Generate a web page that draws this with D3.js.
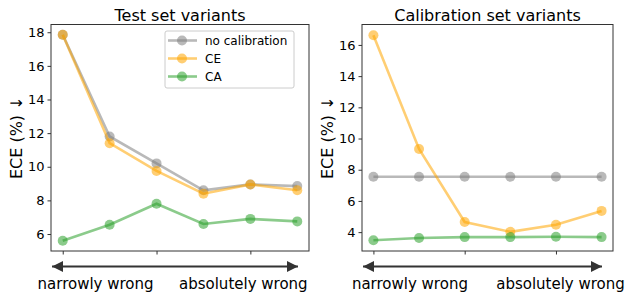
<!DOCTYPE html>
<html>
<head>
<meta charset="utf-8">
<script src="https://cdn.jsdelivr.net/npm/d3@7"></script>
<style>
  body { margin: 0; background: #fff; }
  text { font-family: "DejaVu Sans", sans-serif; fill: #000; }
</style>
</head>
<body>
<svg width="625" height="292"></svg>
<script>
var svg = d3.select("svg");

// x positions 0..5, from narrowly wrong to absolutely wrong
var steps = [0, 1, 2, 3, 4, 5];
var xTicks = [0, 2, 4];

var testNoCal = [17.85, 11.8, 10.2, 8.6, 8.95, 8.85];
var testCE = [17.85, 11.4, 9.75, 8.4, 8.95, 8.6];
var testCA = [5.6, 6.55, 7.8, 6.6, 6.9, 6.75];

var calNoCal = [7.55, 7.55, 7.55, 7.55, 7.55, 7.55];
var calCE = [16.62, 9.33, 4.65, 4.02, 4.47, 5.36];
var calCA = [3.48, 3.62, 3.68, 3.68, 3.7, 3.68];

var seriesNames = ["no calibration", "CE", "CA"];
var colors = ["#808080", "#ffa500", "#2ca02c"];

var panels = [
  { title: "Test set variants", left: 51, right: 309, yDomain: [4.99, 18.46], yTicks: [6, 8, 10, 12, 14, 16, 18],
    series: [testNoCal, testCE, testCA], legend: true, lab: [0.7, 3.85] },
  { title: "Calibration set variants", left: 362, right: 613, yDomain: [2.79, 17.31], yTicks: [4, 6, 8, 10, 12, 14, 16],
    series: [calNoCal, calCE, calCA], legend: false, lab: [0.8, 4.1] }
];

var plotTop = 24.5, plotBottom = 251;

svg.append("defs").append("marker")
    .attr("id", "head")
    .attr("viewBox", "0 0 10 10")
    .attr("refX", 10).attr("refY", 5)
    .attr("markerWidth", 5.5).attr("markerHeight", 5)
    .attr("markerUnits", "strokeWidth")
    .attr("orient", "auto-start-reverse")
  .append("path")
    .attr("d", "M0,0L10,5L0,10z")
    .attr("fill", "#333");

panels.forEach(function(p) {
  var x = d3.scaleLinear().domain([-0.25, 5.25]).range([p.left, p.right]);
  var y = d3.scaleLinear().domain(p.yDomain).range([plotBottom, plotTop]);
  var g = svg.append("g");

  var yAxis = g.append("g")
      .attr("transform", "translate(" + p.left + ",0)")
      .call(d3.axisLeft(y).tickValues(p.yTicks).tickSize(3.5).tickPadding(3));
  yAxis.selectAll("text").attr("font-size", "13px").style("font-family", "DejaVu Sans").attr("fill", "#000");
  yAxis.select(".domain").remove();

  var xAxis = g.append("g")
      .attr("transform", "translate(0," + plotBottom + ")")
      .call(d3.axisBottom(x).tickValues(xTicks).tickSize(3.5).tickFormat(""));
  xAxis.select(".domain").remove();
  g.selectAll(".tick line").attr("stroke", "#333");

  var line = d3.line().x(function(d, i) { return x(steps[i]); }).y(function(d) { return y(d); });

  p.series.forEach(function(vals, k) {
    var s = g.append("g");
    s.append("path")
        .datum(vals)
        .attr("d", line)
        .attr("fill", "none")
        .attr("stroke", colors[k])
        .attr("stroke-opacity", 0.55)
        .attr("stroke-width", 2.6);
    s.selectAll("circle")
        .data(vals)
        .enter().append("circle")
        .attr("cx", function(d, i) { return x(steps[i]); })
        .attr("cy", function(d) { return y(d); })
        .attr("r", 5)
        .attr("fill", colors[k])
        .attr("fill-opacity", 0.55);
  });

  g.append("rect")
      .attr("x", p.left).attr("y", plotTop)
      .attr("width", p.right - p.left).attr("height", plotBottom - plotTop)
      .attr("fill", "none").attr("stroke", "#333").attr("stroke-width", 1);

  g.append("text")
      .attr("x", (p.left + p.right) / 2).attr("y", 21)
      .attr("text-anchor", "middle").attr("font-size", "16px")
      .text(p.title);

  g.append("text")
      .attr("transform", "translate(" + (p.left - 29) + "," + ((plotTop + plotBottom) / 2) + ") rotate(-90)")
      .attr("text-anchor", "middle").attr("font-size", "16px")
      .text("ECE (%) \u2193");

  g.append("line")
      .attr("x1", p.left + 1).attr("x2", p.right - 11)
      .attr("y1", 266.5).attr("y2", 266.5)
      .attr("stroke", "#333").attr("stroke-width", 2.2)
      .attr("marker-start", "url(#head)")
      .attr("marker-end", "url(#head)");

  g.append("text")
      .attr("x", x(p.lab[0])).attr("y", 289)
      .attr("text-anchor", "middle").attr("font-size", "15px").attr("fill", "#333")
      .text("narrowly wrong");
  g.append("text")
      .attr("x", x(p.lab[1])).attr("y", 289)
      .attr("text-anchor", "middle").attr("font-size", "15px").attr("fill", "#333")
      .text("absolutely wrong");

  if (p.legend) {
    var lg = g.append("g").attr("transform", "translate(165,31)");
    lg.append("rect")
        .attr("width", 129).attr("height", 57)
        .attr("rx", 2).attr("fill", "#fff").attr("fill-opacity", 0.8)
        .attr("stroke", "#ccc");
    seriesNames.forEach(function(name, k) {
      var row = lg.append("g").attr("transform", "translate(0," + (9.5 + k * 18) + ")");
      row.append("line")
          .attr("x1", 3).attr("x2", 32)
          .attr("stroke", colors[k]).attr("stroke-opacity", 0.55).attr("stroke-width", 2.6);
      row.append("circle")
          .attr("cx", 17).attr("r", 5)
          .attr("fill", colors[k]).attr("fill-opacity", 0.55);
      row.append("text")
          .attr("x", 40).attr("y", 4.5)
          .attr("font-size", "12px")
          .text(name);
    });
  }
});
</script>
</body>
</html>
